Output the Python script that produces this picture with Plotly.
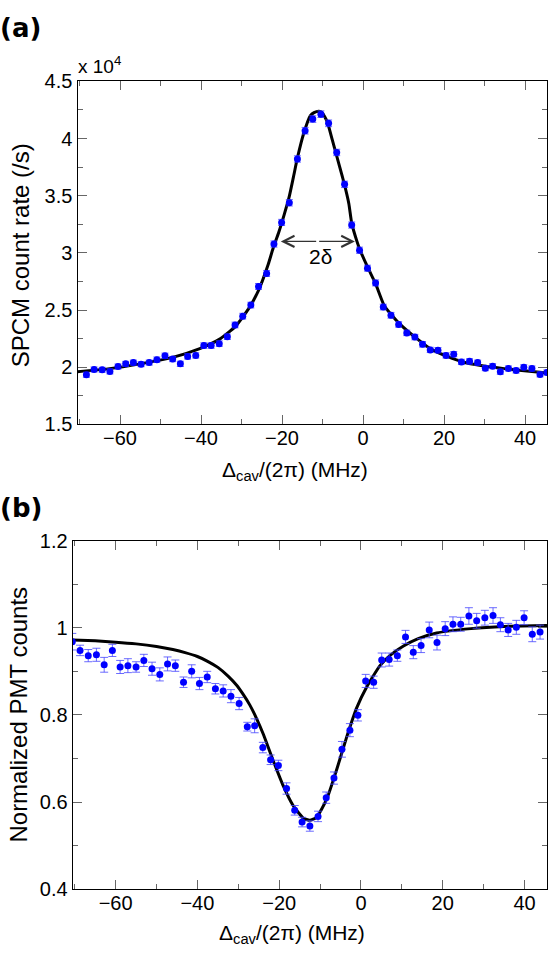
import plotly.graph_objects as go

W, H = 553, 963

# ---------------- Panel (a) data ----------------
xa = [-68.3, -66.4, -64.4, -62.5, -60.5, -58.6, -56.7, -54.8, -52.8, -50.9,
      -48.9, -47.0, -45.1, -43.3, -41.3, -39.3, -37.5, -35.5, -33.5, -31.6,
      -29.7, -27.7, -25.8, -23.8, -22.0, -20.1, -18.2, -16.2, -14.3, -12.4,
      -10.4, -8.5, -6.5, -4.55, -2.8, -0.86, 1.1, 3.1, 5.0, 6.9,
      8.8, 10.8, 12.8, 14.7, 16.6, 18.5, 20.5, 22.4, 24.3, 26.3,
      28.3, 30.2, 32.0, 33.9, 35.9, 37.8, 39.7, 41.7, 43.7, 45.4]
ya = [1.934, 1.980, 1.977, 1.963, 2.006, 2.029, 2.040, 2.026, 2.040, 2.066,
      2.100, 2.071, 2.029, 2.094, 2.103, 2.189, 2.189, 2.206, 2.266, 2.369,
      2.446, 2.543, 2.706, 2.820, 3.077, 3.266, 3.438, 3.821, 4.068, 4.170,
      4.213, 4.133, 3.878, 3.599, 3.243, 3.023, 2.866, 2.737, 2.526, 2.454,
      2.374, 2.300, 2.263, 2.200, 2.151, 2.149, 2.103, 2.114, 2.046, 2.051,
      2.040, 1.991, 2.009, 1.960, 1.989, 1.971, 2.000, 1.989, 1.937, 1.954]
err_a = [0.022, 0.022, 0.022, 0.022, 0.022, 0.022, 0.022, 0.022, 0.022, 0.023,
         0.023, 0.023, 0.023, 0.023, 0.023, 0.024, 0.024, 0.024, 0.024, 0.025,
         0.025, 0.025, 0.026, 0.026, 0.027, 0.027, 0.028, 0.028, 0.029, 0.029,
         0.029, 0.029, 0.028, 0.028, 0.027, 0.027, 0.026, 0.026, 0.025, 0.025,
         0.024, 0.024, 0.024, 0.024, 0.023, 0.023, 0.023, 0.023, 0.023, 0.023,
         0.022, 0.022, 0.022, 0.022, 0.022, 0.022, 0.022, 0.022, 0.022, 0.022]

# fit curve
xa_fit = [-70.5, -63, -55, -47, -40.3, -35.5, -31.5, -28.2, -25.8, -23.4,
          -22.2, -20.8, -19.5, -18.3, -17.2, -16.2, -14.6, -13.0, -12.1, -10.9,
          -10.1, -8.85, -7.6, -6.4, -4.75, -3.5, -2.8, -1.5, -0.8, 1.2,
          3.1, 5.2, 7.2, 9.3, 12.6, 16.7, 20.8, 24.9, 29.1, 33.2,
          37.3, 45.5]
ya_fit = [1.960, 1.985, 2.029, 2.086, 2.163, 2.243, 2.357, 2.514, 2.671, 2.900,
          3.040, 3.180, 3.330, 3.480, 3.660, 3.830, 4.050, 4.200, 4.227, 4.239,
          4.227, 4.148, 3.990, 3.835, 3.620, 3.430, 3.260, 3.100, 3.030, 2.870,
          2.730, 2.540, 2.450, 2.370, 2.270, 2.160, 2.094, 2.043, 2.014, 1.994,
          1.977, 1.950]

# ---------------- Panel (b) data ----------------
xb = [-70.6, -68.7, -66.7, -64.7, -62.8, -60.8, -58.9, -57.0, -55.0, -53.1,
      -51.1, -49.2, -47.3, -45.4, -43.4, -41.4, -39.5, -37.6, -35.6, -33.7,
      -31.8, -29.8, -27.8, -26.0, -24.0, -22.1, -20.2, -18.2, -16.2, -14.4,
      -12.5, -10.5, -8.5, -6.6, -4.65, -2.7, -0.75, 1.15, 3.1, 5.07,
      6.9, 8.9, 10.9, 12.8, 14.7, 16.7, 18.6, 20.6, 22.5, 24.4,
      26.4, 28.3, 30.3, 32.3, 34.1, 36.0, 38.0, 39.9, 41.9, 43.8]
yb = [0.968, 0.948, 0.936, 0.938, 0.915, 0.948, 0.910, 0.913, 0.910, 0.925,
      0.906, 0.893, 0.917, 0.913, 0.875, 0.900, 0.872, 0.887, 0.860, 0.855,
      0.843, 0.826, 0.773, 0.775, 0.725, 0.697, 0.684, 0.631, 0.581, 0.554,
      0.545, 0.567, 0.610, 0.655, 0.721, 0.765, 0.799, 0.878, 0.875, 0.926,
      0.927, 0.936, 0.979, 0.944, 0.959, 0.995, 0.966, 0.998, 1.008, 1.008,
      1.027, 1.016, 1.023, 1.028, 1.007, 0.995, 1.001, 1.023, 0.985, 0.990]
err_b = [0.019, 0.012, 0.014, 0.015, 0.017, 0.014, 0.015, 0.016, 0.012, 0.014,
         0.015, 0.015, 0.016, 0.013, 0.012, 0.015, 0.014, 0.013, 0.012, 0.014,
         0.015, 0.014, 0.010, 0.016, 0.012, 0.011, 0.012, 0.013, 0.011, 0.011,
         0.012, 0.012, 0.013, 0.014, 0.018, 0.015, 0.013, 0.015, 0.014, 0.016,
         0.015, 0.013, 0.015, 0.015, 0.016, 0.018, 0.017, 0.016, 0.017, 0.016,
         0.019, 0.017, 0.017, 0.018, 0.016, 0.015, 0.016, 0.016, 0.017, 0.016]

xb_fit = [-70.5, -65, -60, -55, -50, -46, -43, -40, -37.5, -35,
          -32.5, -30.4, -28.8, -27.2, -25.5, -23.9, -21.5, -19.0, -16.6, -14.1,
          -12.5, -10.85, -8.4, -5.95, -3.5, -1.05, 1.4, 4.65, 7.2, 10.4,
          14.0, 18.5, 26.9, 35.0, 45.5]
yb_fit = [0.972, 0.970, 0.967, 0.963, 0.957, 0.950, 0.943, 0.934, 0.923, 0.909,
          0.889, 0.868, 0.847, 0.823, 0.791, 0.756, 0.696, 0.637, 0.592, 0.563,
          0.558, 0.565, 0.606, 0.674, 0.749, 0.816, 0.864, 0.913, 0.937, 0.958,
          0.975, 0.988, 0.998, 1.003, 1.005]

x_range = [-70.5, 45.5]
ya_ticks = [1.5, 2, 2.5, 3, 3.5, 4, 4.5]
yb_ticks = [0.4, 0.6, 0.8, 1, 1.2]
x_ticks = [-60, -40, -20, 0, 20, 40]

FONT = "Liberation Sans, Arial, Helvetica, sans-serif"
BLUE = "#0000ff"
ERRC = "rgba(70,70,255,0.8)"

fig = go.Figure()

fig.add_trace(go.Scatter(x=xa_fit, y=ya_fit, mode="lines",
                         line=dict(color="black", width=3, shape="spline", smoothing=0.5),
                         xaxis="x", yaxis="y", showlegend=False, hoverinfo="skip"))
fig.add_trace(go.Scatter(x=xa, y=ya, mode="markers", marker=dict(color=BLUE, size=7),
                         error_y=dict(type="data", array=err_a, color=ERRC, thickness=1, width=3.5),
                         xaxis="x", yaxis="y", showlegend=False))
fig.add_trace(go.Scatter(x=xb_fit, y=yb_fit, mode="lines",
                         line=dict(color="black", width=3, shape="spline", smoothing=0.5),
                         xaxis="x2", yaxis="y2", showlegend=False, hoverinfo="skip"))
fig.add_trace(go.Scatter(x=xb, y=yb, mode="markers", marker=dict(color=BLUE, size=7),
                         error_y=dict(type="data", array=err_b, color=ERRC, thickness=1, width=4),
                         xaxis="x2", yaxis="y2", showlegend=False))

def axstyle(**kw):
    d = dict(showline=True, linecolor="black", linewidth=1.2, mirror="allticks",
             ticks="inside", ticklen=9, tickwidth=1, tickcolor="#666",
             showgrid=False, zeroline=False,
             tickfont=dict(family=FONT, size=20, color="black"))
    d.update(kw)
    return d

minor_x = dict(dtick=10, ticklen=5, tickcolor="#666", ticks="inside", showgrid=False)

fig.update_layout(
    width=W, height=H, margin=dict(l=0, r=0, t=0, b=0),
    paper_bgcolor="white", plot_bgcolor="white",
    font=dict(family=FONT, size=19, color="black"),
    xaxis=axstyle(domain=[77.5 / W, 547.3 / W], range=x_range, anchor="y",
                  tickvals=x_ticks, minor=minor_x, ticklabelstandoff=-4),
    yaxis=axstyle(domain=[1 - 423 / H, 1 - 72 / H], range=[1.5, 4.5], anchor="x",
                  tickvals=ya_ticks,
                  minor=dict(dtick=0.25, tick0=0, ticklen=5, tickcolor="#666", ticks="inside", showgrid=False)),
    xaxis2=axstyle(domain=[72.7 / W, 547 / W], range=x_range, anchor="y2",
                   tickvals=x_ticks, minor=minor_x, ticklabelstandoff=-4),
    yaxis2=axstyle(domain=[1 - 898.7 / H, 1 - 542 / H], range=[0.4, 1.2], anchor="x2",
                   tickvals=yb_ticks, ticktext=["0.4", "0.6", "0.8", "1", "1.2"],
                   minor=dict(dtick=0.1, tick0=0, ticklen=5, tickcolor="#666", ticks="inside", showgrid=False)),
)

def px(xp):
    return xp / W

def py(yp):
    return 1 - yp / H

ann = []
# panel labels
ann.append(dict(text="<b>(a)</b>", x=px(-2), y=py(17), xref="paper", yref="paper",
                xanchor="left", yanchor="middle", showarrow=False,
                font=dict(family="DejaVu Sans", size=26, color="black")))
ann.append(dict(text="<b>(b)</b>", x=px(-2), y=py(509), xref="paper", yref="paper",
                xanchor="left", yanchor="middle", showarrow=False,
                font=dict(family="DejaVu Sans", size=26, color="black")))
# exponent
ann.append(dict(text="x 10<sup>4</sup>", x=px(76), y=py(70), xref="paper", yref="paper",
                xanchor="left", yanchor="bottom", showarrow=False,
                font=dict(family=FONT, size=19, color="black")))
# x titles
ann.append(dict(text="Δ<sub>cav</sub>/(2π) (MHz)", x=px(295), y=py(455), xref="paper", yref="paper",
                xanchor="center", yanchor="top", showarrow=False,
                font=dict(family=FONT, size=21, color="black")))
ann.append(dict(text="Δ<sub>cav</sub>/(2π) (MHz)", x=px(292), y=py(929), xref="paper", yref="paper",
                xanchor="center", yanchor="top", showarrow=False,
                font=dict(family=FONT, size=21, color="black")))
# y titles
ann.append(dict(text="SPCM count rate (/s)", x=px(20), y=py(250), xref="paper", yref="paper",
                xanchor="center", yanchor="middle", textangle=-90, showarrow=False,
                font=dict(family=FONT, size=24, color="black")))
ann.append(dict(text="Normalized PMT counts", x=px(19), y=py(720), xref="paper", yref="paper",
                xanchor="center", yanchor="middle", textangle=-90, showarrow=False,
                font=dict(family=FONT, size=24, color="black")))
# 2 delta arrow
for tip in (-20.3, -2.0):
    ann.append(dict(x=tip, y=3.1, ax=-11.2, ay=3.1, xref="x", yref="y", axref="x", ayref="y",
                    text="", showarrow=True, arrowhead=5, arrowsize=1.7, arrowwidth=1.3,
                    arrowcolor="#333"))
ann.append(dict(text="2δ", x=-10.6, y=2.97, xref="x", yref="y", showarrow=False,
                xanchor="center", yanchor="middle", font=dict(family=FONT, size=21, color="black")))

fig.update_layout(annotations=ann)

fig.write_html("out.html")
